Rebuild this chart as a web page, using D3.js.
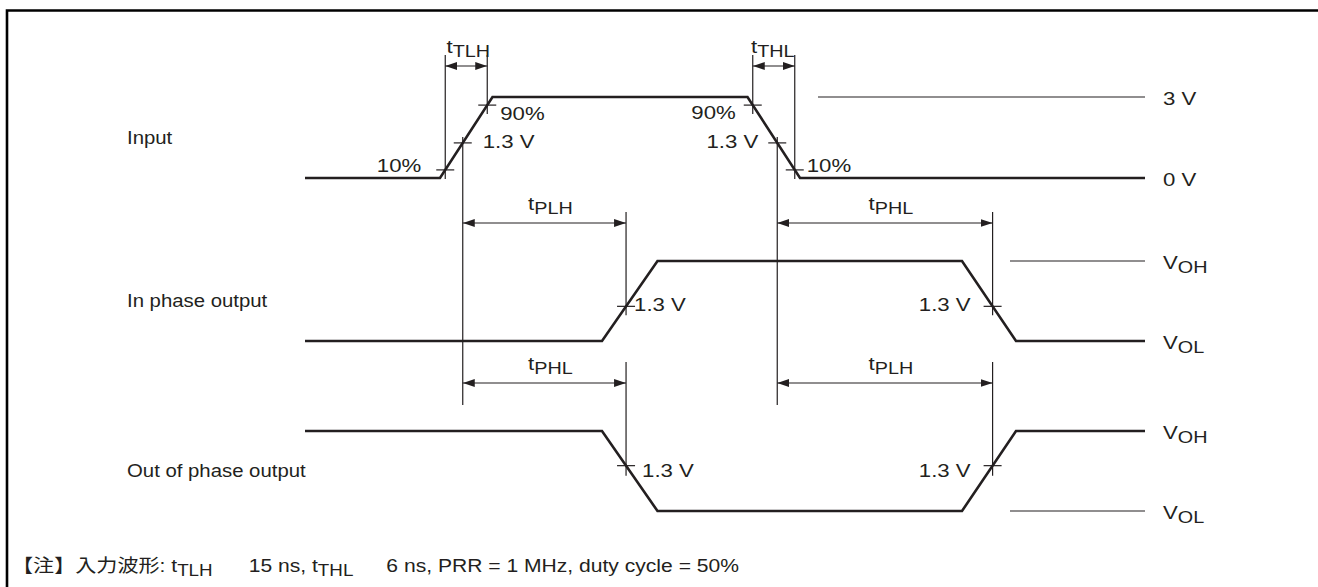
<!DOCTYPE html>
<html>
<head>
<meta charset="utf-8">
<script src="https://cdn.jsdelivr.net/npm/d3@7"></script>
<style>
  html, body { margin: 0; background: #fff; overflow: hidden; }
  svg { display: block; }
  text { font-family: "Liberation Sans", Arial, "Noto Sans CJK JP", sans-serif; fill: #231f20; }
</style>
</head>
<body>
<svg id="chart" width="1318" height="587"></svg>
<script>
// time axis of the diagram, ns
const timeDomain = [0, 280];

// waveforms: vertex time (ns) and level
const inputWave = [
  { t: 0, v: 0 }, { t: 45, v: 0 }, { t: 62.5, v: 3 },
  { t: 147.5, v: 3 }, { t: 165, v: 0 }, { t: 280, v: 0 }
];
const inPhaseWave = [
  { t: 0, v: 0 }, { t: 99, v: 0 }, { t: 117.5, v: 1 },
  { t: 219, v: 1 }, { t: 237, v: 0 }, { t: 280, v: 0 }
];
const outPhaseWave = [
  { t: 0, v: 1 }, { t: 99, v: 1 }, { t: 117.5, v: 0 },
  { t: 219, v: 0 }, { t: 237, v: 1 }, { t: 280, v: 1 }
];

const rowLabels = ["Input", "In phase output", "Out of phase output"];
const levelLabels = [
  [["3 V"], ["0 V"]],
  [["V", "OH"], ["V", "OL"]],
  [["V", "OH"], ["V", "OL"]]
];
// thin reference level lines: start time, end time, level
const refLines = [
  { t0: 171, t1: 280, v: 3 },
  { t0: 235, t1: 280, v: 1 },
  { t0: 235, t1: 280, v: 0 }
];

// input measurement levels (V) and their labels
const inputLevels = [0.3, 1.3, 2.7];
const inputLevelLabels = ["10%", "1.3 V", "90%"];
const threshold = 1.3;       // V
const inputSwing = 3;        // V
const outputLabel = "1.3 V";

const timingNames = { rise: "TLH", fall: "THL", propUp: ["PLH", "PHL"], propDown: ["PHL", "PLH"] };

const noteParts = [
  { s: "【注】入力波形: t" }, { s: "TLH", sub: true }, { s: "15 ns, t", gap: 36 },
  { s: "THL", sub: true }, { s: "6 ns, PRR = 1 MHz, duty cycle = 50%", gap: 33 }
];

// ---------------------------------------------------------------
const svg = d3.select("#chart");
const ink = "#231f20";
const FS = 18.5, SUBFS = 16.5, SX = 1.2;

const x = d3.scaleLinear().domain(timeDomain).range([305, 1145]);
const rows = [
  { wave: inputWave, y: d3.scaleLinear().domain([0, 3]).range([178, 97]) },
  { wave: inPhaseWave, y: d3.scaleLinear().domain([0, 1]).range([341, 261]) },
  { wave: outPhaseWave, y: d3.scaleLinear().domain([0, 1]).range([511, 431]) }
];

function edges(wave) {
  const out = [];
  for (let i = 0; i < wave.length - 1; i++)
    if (wave[i].v !== wave[i + 1].v) out.push([wave[i], wave[i + 1]]);
  return out;
}
function timeAt(edge, v) {
  const [a, b] = edge;
  return a.t + (v - a.v) / (b.v - a.v) * (b.t - a.t);
}
function valueAt(wave, t) {
  for (let i = 0; i < wave.length - 1; i++) {
    const a = wave[i], b = wave[i + 1];
    if (t >= a.t && t <= b.t) return a.v + (b.v - a.v) * (t - a.t) / (b.t - a.t);
  }
  return wave[wave.length - 1].v;
}

function label(x0, y0, parts, anchor, sx) {
  const t = svg.append("text")
    .attr("transform", `translate(${x0},${y0}) scale(${sx || SX},1)`)
    .attr("text-anchor", anchor || "start")
    .style("font-size", FS + "px");
  let shifted = false;
  parts.forEach((p, i) => {
    const ts = t.append("tspan").text(p);
    if (i % 2 === 1) { ts.attr("dy", 4).style("font-size", SUBFS + "px"); shifted = true; }
    else if (shifted) { ts.attr("dy", -4); shifted = false; }
  });
  return t;
}
function thin(x1, y1, x2, y2) {
  svg.append("line").attr("x1", x1).attr("y1", y1).attr("x2", x2).attr("y2", y2)
    .attr("stroke", ink).attr("stroke-width", 1.2);
}

// arrow marker
svg.append("defs").append("marker")
  .attr("id", "arr").attr("viewBox", "0 0 12 8").attr("refX", 12).attr("refY", 4)
  .attr("markerWidth", 12).attr("markerHeight", 8).attr("markerUnits", "userSpaceOnUse")
  .attr("orient", "auto-start-reverse")
  .append("path").attr("d", "M0,0L12,4L0,8Z").attr("fill", ink);

// frame (left and top only)
svg.append("path").attr("d", "M7,600V10.5H1330").attr("fill", "none")
  .attr("stroke", "#000").attr("stroke-width", 2.6);

// waveforms, reference lines, labels
const line = d3.line();
rows.forEach((r, i) => {
  svg.append("path")
    .attr("d", line(r.wave.map(d => [x(d.t), r.y(d.v)])))
    .attr("fill", "none").attr("stroke", ink).attr("stroke-width", 2.6)
    .attr("stroke-linejoin", "miter");
  const ref = refLines[i];
  thin(x(ref.t0), r.y(ref.v), x(ref.t1), r.y(ref.v));
  const [lo, hi] = r.y.domain();
  label(1163, r.y(hi) + 8, levelLabels[i][0]);
  label(1163, r.y(lo) + 8, levelLabels[i][1]);
  label(127, (r.y(lo) + r.y(hi)) / 2 + 6, [rowLabels[i]], "start", 1.1);
});

function tick(px, py) { thin(px - 9, py, px + 9, py); }

// input crossings
const inY = rows[0].y;
const [inRise, inFall] = edges(inputWave);
const riseT = inputLevels.map(v => timeAt(inRise, v));
const fallT = inputLevels.map(v => timeAt(inFall, v));
inputLevels.forEach((v, k) => {
  tick(x(riseT[k]), inY(v));
  tick(x(fallT[k]), inY(v));
});
// extension lines for 10% / 90%
[[riseT[0], inputLevels[0]], [riseT[2], inputLevels[2]], [fallT[2], inputLevels[2]], [fallT[0], inputLevels[0]]]
  .forEach(([t, v]) => thin(x(t), 55, x(t), inY(v) + 9));
// extension lines for 1.3 V
[riseT[1], fallT[1]].forEach(t => thin(x(t), inY(threshold) - 6, x(t), 405));

// input labels
label(x(riseT[0]) - 24, inY(inputLevels[0]) + 2, [inputLevelLabels[0]], "end");
label(x(riseT[1]) + 20, inY(inputLevels[1]) + 5, [inputLevelLabels[1]]);
label(x(riseT[2]) + 13, inY(inputLevels[2]) + 15, [inputLevelLabels[2]]);
label(x(fallT[2]) - 17, inY(inputLevels[2]) + 14, [inputLevelLabels[2]], "end");
label(x(fallT[1]) - 19, inY(inputLevels[1]) + 5, [inputLevelLabels[1]], "end");
label(x(fallT[0]) + 12, inY(inputLevels[0]) + 2, [inputLevelLabels[0]]);

// output crossings (in-phase threshold at 1.3 V of the swing)
const outFrac = threshold / inputSwing;
const [opRise, opFall] = edges(inPhaseWave);
const outT = [timeAt(opRise, outFrac), timeAt(opFall, outFrac)];
const ipY = rows[1].y, opY = rows[2].y;
outT.forEach((t, k) => {
  const py1 = ipY(valueAt(inPhaseWave, t));
  const py2 = opY(valueAt(outPhaseWave, t));
  tick(x(t), py1); tick(x(t), py2);
  thin(x(t), 212, x(t), py1 + 9);
  thin(x(t), 362, x(t), py2 + 10);
  if (k === 0) {
    label(x(t) + 8, py1 + 5, [outputLabel]);
    label(x(t) + 16, py2 + 11, [outputLabel]);
  } else {
    label(x(t) - 22, py1 + 5, [outputLabel], "end");
    label(x(t) - 22, py2 + 11, [outputLabel], "end");
  }
});

// dimension arrows
function dim(t1, t2, y, sub, shift) {
  svg.append("line").attr("x1", x(t1)).attr("x2", x(t2)).attr("y1", y).attr("y2", y)
    .attr("stroke", ink).attr("stroke-width", 1.2)
    .attr("marker-start", "url(#arr)").attr("marker-end", "url(#arr)");
  label((x(t1) + x(t2)) / 2 + shift, y - 13, ["t", sub], "middle");
}
dim(riseT[0], riseT[2], 66, timingNames.rise, 2);
dim(fallT[2], fallT[0], 66, timingNames.fall, -1);
dim(riseT[1], outT[0], 223, timingNames.propUp[0], 6);
dim(fallT[1], outT[1], 223, timingNames.propUp[1], 6);
dim(riseT[1], outT[0], 383, timingNames.propDown[0], 6);
dim(fallT[1], outT[1], 383, timingNames.propDown[1], 6);

// note
const NSX = 1.14;
const note = svg.append("text")
  .attr("transform", `translate(12,572) scale(${NSX},1)`)
  .style("font-size", FS + "px");
let down = false;
noteParts.forEach(p => {
  const ts = note.append("tspan").text(p.s);
  if (p.sub) { ts.attr("dy", 4).style("font-size", SUBFS + "px"); down = true; }
  else if (down) { ts.attr("dy", -4); down = false; }
  if (p.gap) ts.attr("dx", p.gap / NSX);
});
</script>
</body>
</html>
